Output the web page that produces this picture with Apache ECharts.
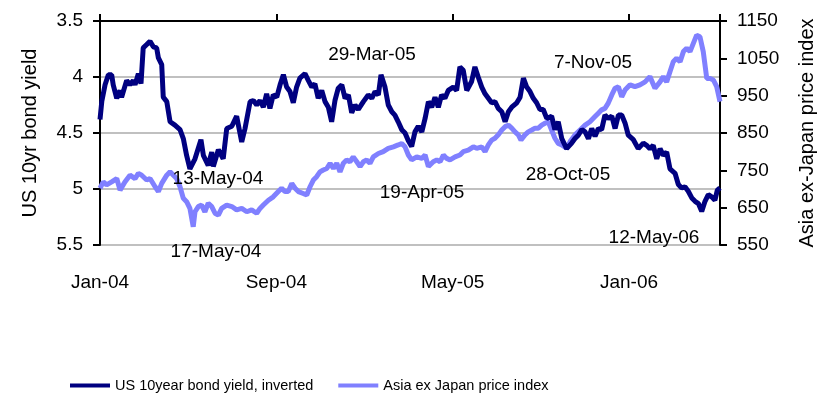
<!DOCTYPE html>
<html>
<head>
<meta charset="utf-8">
<script src="https://cdn.jsdelivr.net/npm/echarts@6/dist/echarts.min.js"></script>
<style>html,body{margin:0;padding:0;background:#fff;}#c{width:829px;height:399px;}</style>
</head>
<body>
<div id="c"></div>
<script>
// x values are months since Jan-04
var tickLabels = ["Jan-04", "Sep-04", "May-05", "Jan-06"];
var seriesNames = ["US 10year bond yield, inverted", "Asia ex Japan price index"];

var yieldMonths = [0.00,0.08,0.23,0.38,0.53,0.60,0.76,0.91,0.98,1.21,1.36,1.51,1.59,1.74,1.86,1.96,2.12,2.27,2.42,2.57,2.65,2.80,2.87,3.03,3.18,3.40,3.63,3.78,3.93,4.08,4.31,4.58,4.69,4.91,5.07,5.14,5.37,5.59,5.75,5.98,6.20,6.43,6.58,6.81,6.96,7.11,7.26,7.41,7.56,7.71,7.86,8.02,8.17,8.32,8.47,8.62,8.77,8.92,9.07,9.30,9.45,9.61,9.75,9.90,10.06,10.21,10.36,10.51,10.66,10.81,10.97,11.12,11.27,11.42,11.57,11.72,11.95,12.17,12.33,12.48,12.63,12.75,12.93,13.08,13.24,13.38,13.53,13.69,13.84,13.99,14.14,14.29,14.44,14.60,14.75,14.90,15.05,15.20,15.35,15.50,15.65,15.80,16.03,16.18,16.33,16.48,16.64,16.86,17.01,17.16,17.32,17.47,17.62,17.77,17.92,18.07,18.23,18.38,18.53,18.68,18.91,19.06,19.21,19.36,19.51,19.66,19.81,19.96,20.11,20.27,20.49,20.64,20.79,20.95,21.02,21.17,21.40,21.55,21.70,21.86,22.01,22.16,22.31,22.46,22.61,22.76,22.91,23.06,23.22,23.37,23.52,23.67,23.82,23.97,24.20,24.42,24.65,24.80,24.95,25.10,25.26,25.41,25.56,25.71,25.86,26.09,26.24,26.39,26.54,26.69,26.85,27.00,27.15,27.30,27.45,27.60,27.75,27.90,28.01,28.13];
var yieldValues = [4.38,4.22,4.07,3.98,3.98,4.07,4.19,4.12,4.18,4.03,4.07,4.03,4.07,3.97,4.06,3.74,3.71,3.68,3.73,3.74,3.83,3.89,4.18,4.22,4.40,4.43,4.47,4.55,4.70,4.82,4.73,4.56,4.70,4.79,4.67,4.80,4.65,4.73,4.46,4.44,4.35,4.58,4.46,4.22,4.21,4.25,4.21,4.27,4.15,4.28,4.16,4.18,4.07,3.98,4.09,4.13,4.23,4.09,4.01,3.97,4.03,4.09,4.06,4.19,4.12,4.22,4.27,4.40,4.21,4.10,4.07,4.19,4.16,4.32,4.25,4.29,4.22,4.16,4.19,4.13,4.16,3.98,4.09,4.25,4.31,4.34,4.40,4.47,4.50,4.57,4.62,4.49,4.44,4.49,4.37,4.22,4.27,4.18,4.27,4.16,4.19,4.12,4.09,4.12,3.91,3.94,4.12,4.04,3.91,4.00,4.09,4.15,4.19,4.23,4.22,4.28,4.31,4.40,4.31,4.27,4.23,4.18,4.01,4.09,4.13,4.19,4.23,4.29,4.29,4.37,4.35,4.47,4.40,4.55,4.55,4.64,4.59,4.55,4.52,4.47,4.49,4.55,4.46,4.53,4.46,4.47,4.34,4.37,4.35,4.46,4.34,4.34,4.41,4.52,4.56,4.64,4.59,4.61,4.64,4.61,4.73,4.64,4.70,4.67,4.82,4.86,4.96,4.99,4.98,5.02,5.08,5.11,5.13,5.20,5.11,5.05,5.07,5.10,5.01,4.99];

var asiaMonths = [0.00,0.15,0.30,0.53,0.76,0.91,1.13,1.36,1.59,1.74,1.89,2.12,2.27,2.50,2.65,2.80,3.03,3.18,3.33,3.48,3.63,3.78,3.93,4.08,4.23,4.31,4.46,4.61,4.76,4.91,5.07,5.22,5.37,5.52,5.75,5.98,6.20,6.43,6.66,6.88,7.11,7.26,7.41,7.64,7.86,8.09,8.24,8.39,8.54,8.70,8.85,9.00,9.22,9.38,9.53,9.68,9.83,9.98,10.13,10.29,10.44,10.59,10.74,10.89,11.04,11.19,11.34,11.49,11.65,11.80,11.95,12.10,12.25,12.40,12.63,12.85,13.08,13.31,13.53,13.69,13.84,13.99,14.14,14.37,14.60,14.75,14.90,15.12,15.28,15.43,15.58,15.73,15.88,16.11,16.33,16.48,16.71,16.94,17.09,17.32,17.47,17.62,17.77,17.92,18.07,18.23,18.38,18.53,18.68,18.83,18.98,19.10,19.28,19.43,19.59,19.74,19.89,20.04,20.19,20.34,20.49,20.64,20.79,20.95,21.02,21.17,21.33,21.55,21.78,22.01,22.23,22.46,22.61,22.76,22.91,23.06,23.22,23.37,23.52,23.67,23.82,24.05,24.27,24.50,24.73,24.95,25.18,25.41,25.56,25.71,25.86,26.01,26.16,26.32,26.47,26.62,26.77,26.92,27.07,27.22,27.37,27.53,27.68,27.83,27.98,28.13];
var asiaValues = [702,719,711,719,728,697,719,737,728,742,737,724,728,706,693,715,737,746,737,728,706,675,666,648,599,639,653,657,639,662,653,635,630,648,657,653,644,648,639,644,635,648,657,670,679,693,702,693,693,715,702,693,688,684,706,724,733,746,751,755,769,755,769,746,769,778,773,786,773,760,773,778,769,786,795,800,809,813,818,822,813,791,778,786,782,791,760,773,778,773,791,782,778,786,791,800,804,813,809,813,800,818,831,836,845,858,867,871,863,853,845,831,845,853,858,863,863,871,876,880,858,836,822,818,813,809,827,845,858,871,880,894,903,912,916,930,952,970,974,947,965,979,974,979,987,1001,970,987,1001,987,1014,1041,1050,1041,1068,1077,1068,1090,1112,1108,1068,996,996,992,974,934];

var annotations = [
  {text: "13-May-04", x: 218, y: 179},
  {text: "17-May-04", x: 216, y: 252},
  {text: "29-Mar-05", x: 372, y: 55},
  {text: "19-Apr-05", x: 422, y: 193},
  {text: "7-Nov-05", x: 593, y: 63},
  {text: "28-Oct-05", x: 568, y: 175},
  {text: "12-May-06", x: 654, y: 238}
];

var FONT = '"Liberation Sans",Arial,sans-serif';
var DARK = '#000080';
var LIGHT = '#8080FF';

function zip(a, b) { return a.map(function (v, i) { return [v, b[i]]; }); }

var chart = echarts.init(document.getElementById('c'), null, {renderer: 'canvas'});
var xMax = yieldMonths[yieldMonths.length - 1];
var common = {type: 'value', min: 0, max: xMax, interval: 8, splitLine: {show: false}};

chart.setOption({
  animation: false,
  backgroundColor: '#fff',
  textStyle: {fontFamily: FONT},
  grid: {left: 100, right: 109, top: 21, bottom: 154, containLabel: false},
  xAxis: [
    Object.assign({}, common, {
      position: 'top',
      axisLine: {show: true, onZero: false, lineStyle: {color: '#000', width: 2}},
      axisTick: {show: true, inside: false, length: 7, lineStyle: {color: '#000', width: 2}},
      axisLabel: {show: false}
    }),
    Object.assign({}, common, {
      position: 'bottom',
      axisLine: {show: false, onZero: false},
      axisTick: {show: false},
      axisLabel: {
        show: true, margin: 28, color: '#000', fontSize: 19, fontFamily: FONT,
        showMaxLabel: false,
        formatter: function (v) {
          var i = Math.round(v / 8);
          return Math.abs(v - i * 8) < 1e-6 && tickLabels[i] ? tickLabels[i] : '';
        }
      }
    })
  ],
  yAxis: [
    {
      type: 'value', inverse: true, min: 3.5, max: 5.5, interval: 0.5, position: 'left',
      name: 'US 10yr bond yield', nameLocation: 'middle', nameRotate: 90, nameGap: 60,
      nameTextStyle: {color: '#000', fontSize: 20, fontFamily: FONT},
      axisLine: {show: true, onZero: false, lineStyle: {color: '#000', width: 2}},
      axisTick: {show: true, length: 7, lineStyle: {color: '#000', width: 2}},
      axisLabel: {color: '#000', fontSize: 19, fontFamily: FONT, margin: 17,
        formatter: function (v) { return String(v); }},
      splitLine: {show: true, lineStyle: {color: '#C0C0C0', width: 2}}
    },
    {
      type: 'value', min: 550, max: 1150, interval: 100, position: 'right',
      name: 'Asia ex-Japan price index', nameLocation: 'middle', nameRotate: 90, nameGap: 77,
      nameTextStyle: {color: '#000', fontSize: 20, fontFamily: FONT},
      axisLine: {show: true, onZero: false, lineStyle: {color: '#000', width: 2}},
      axisTick: {show: true, length: 7, lineStyle: {color: '#000', width: 2}},
      axisLabel: {color: '#000', fontSize: 19, fontFamily: FONT, margin: 17,
        formatter: function (v) { return String(v); }},
      splitLine: {show: false}
    }
  ],
  legend: {
    show: true, left: 65, top: 373, itemWidth: 40, itemHeight: 4, itemGap: 25,
    icon: 'rect',
    textStyle: {color: '#000', fontSize: 14.5, fontFamily: FONT},
    data: seriesNames
  },
  series: [
    {
      name: seriesNames[1], type: 'line', xAxisIndex: 0, yAxisIndex: 1,
      data: zip(asiaMonths, asiaValues), showSymbol: false, symbol: 'none',
      lineStyle: {color: LIGHT, width: 5}, itemStyle: {color: LIGHT}, z: 2
    },
    {
      name: seriesNames[0], type: 'line', xAxisIndex: 0, yAxisIndex: 0,
      data: zip(yieldMonths, yieldValues), showSymbol: false, symbol: 'none',
      lineStyle: {color: DARK, width: 5}, itemStyle: {color: DARK}, z: 3
    }
  ],
  graphic: annotations.map(function (a) {
    return {
      type: 'text', x: a.x, y: a.y, z: 10,
      style: {text: a.text, fill: '#000', font: '19px ' + FONT, textAlign: 'center', textVerticalAlign: 'middle'}
    };
  })
});
</script>
</body>
</html>
